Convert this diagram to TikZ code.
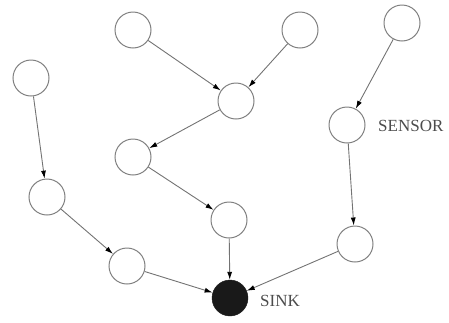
\documentclass[tikz,border=0pt]{standalone}
\usepackage{fontspec}
\setmainfont{Liberation Serif}
\usetikzlibrary{arrows.meta}

\begin{document}
\begin{tikzpicture}[x=1pt,y=1pt,yscale=-1,xscale=1,
  sensor/.style={circle,draw=black!50,line width=1pt,minimum size=36pt,inner sep=0pt},
  sinknode/.style={circle,fill=black!90,draw=black!90,minimum size=36pt,inner sep=0pt},
  hop/.style={draw=black!55,line width=0.9pt,-{Latex[black,length=8pt,width=5pt]}},
  tag/.style={anchor=west,inner sep=0pt,font=\fontsize{17}{19}\selectfont,text=black!70}]
\useasboundingbox (0,0) rectangle (449,322);

% sensors
\node [sensor] (a1) at (133,30) {};
\node [sensor] (a2) at (300,30) {};
\node [sensor] (a3) at (402,23) {};
\node [sensor] (b1) at (31,78) {};
\node [sensor] (c1) at (236,101) {};
\node [sensor] (s1) at (347,125) {};
\node [sensor] (d1) at (133,157) {};
\node [sensor] (e1) at (47,197) {};
\node [sensor] (f1) at (229,220) {};
\node [sensor] (g1) at (355,244) {};
\node [sensor] (h1) at (127,266) {};
% sink
\node [sinknode] (sink) at (230,298) {};

% labels
\node [tag] (sensorlbl) at (378,126) {SENSOR};
\node [tag] (sinklbl) at (260,301) {SINK};

% routes to the sink
\draw [hop] (a1) -- (c1);
\draw [hop] (a2) -- (c1);
\draw [hop] (c1) -- (d1);
\draw [hop] (d1) -- (f1);
\draw [hop] (f1) -- (sink);
\draw [hop] (b1) -- (e1);
\draw [hop] (e1) -- (h1);
\draw [hop] (h1) -- (sink);
\draw [hop] (a3) -- (s1);
\draw [hop] (s1) -- (g1);
\draw [hop] (g1) -- (sink);

\end{tikzpicture}
\end{document}
